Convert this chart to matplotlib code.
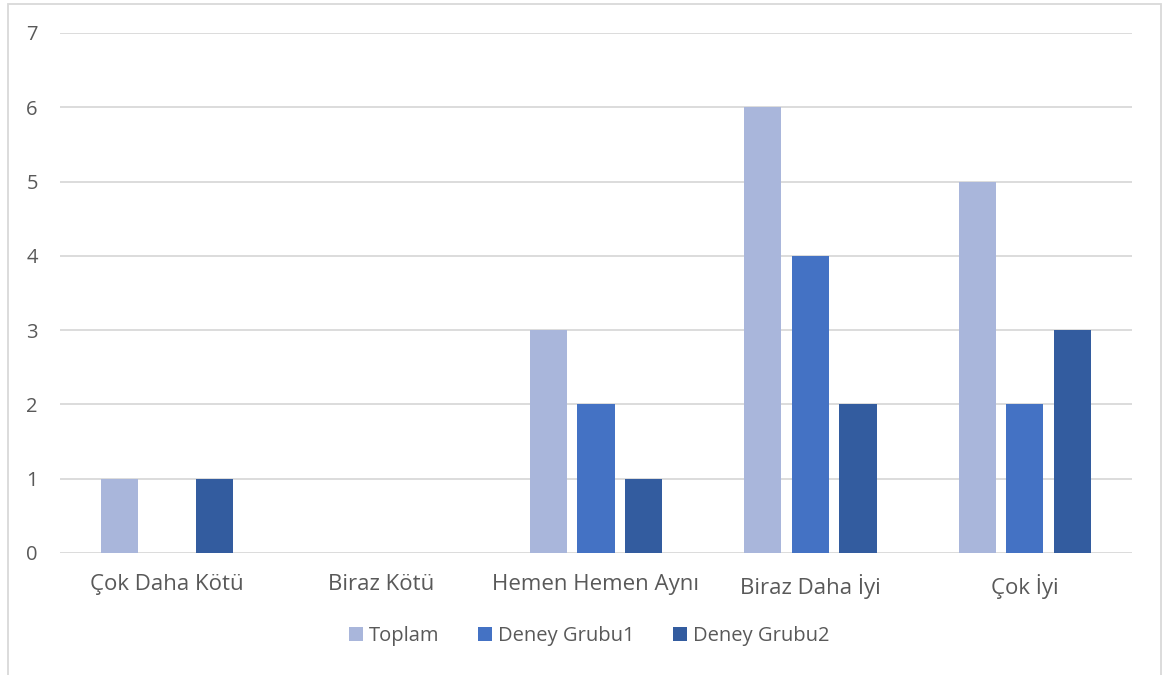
import matplotlib.pyplot as plt
import numpy as np
from matplotlib.patches import Rectangle

categories = ["Çok Daha Kötü", "Biraz Kötü", "Hemen Hemen Aynı", "Biraz Daha İyi", "Çok İyi"]
toplam = [1, 0, 3, 6, 5]
grup1 = [0, 0, 2, 4, 2]
grup2 = [1, 0, 1, 2, 3]
series_names = ["Toplam", "Deney Grubu1", "Deney Grubu2"]
colors = ["#A9B6DB", "#4472C4", "#335C9F"]

plt.rcParams['font.family'] = ['Open Sans', 'DejaVu Sans']
text_color = "#595959"

fig = plt.figure(figsize=(11.7, 6.75), dpi=100)
ax = fig.add_axes([60/1170, 1 - 553/675, (1132 - 60)/1170, (553 - 33)/675])

x = np.arange(len(categories))
width = 0.173
step = 0.222
for i, (vals, name, c) in enumerate(zip([toplam, grup1, grup2], series_names, colors)):
    ax.bar(x + (i - 1) * step, vals, width, color=c, label=name, zorder=3)

ax.set_xlim(-0.5, len(categories) - 0.5)
ax.set_ylim(0, 7)
ax.set_yticks(range(0, 8))
ax.set_xticks(x)
ax.set_xticklabels(categories)
ax.tick_params(axis='both', length=0, colors=text_color)
ax.tick_params(axis='y', pad=16, labelsize=14.5)
ax.tick_params(axis='x', pad=15, labelsize=16)
ax.grid(axis='y', color="#D9D9D9", linewidth=1.3, zorder=0)
for s in ax.spines.values():
    s.set_visible(False)

# outer chart border
fig.patches.append(Rectangle((8/1170, -0.05), (1161 - 8)/1170, 1.05 - 4/675,
                             transform=fig.transFigure, fill=False,
                             edgecolor="#D9D9D9", linewidth=1.3))

leg = fig.legend(loc='center', bbox_to_anchor=(589/1170, 1 - 636/675), ncol=3,
                 frameon=False, fontsize=14.5, handlelength=0.7, handleheight=0.7,
                 handletextpad=0.3, columnspacing=1.9)
for t in leg.get_texts():
    t.set_color(text_color)

fig.savefig("out.png", dpi=100)
